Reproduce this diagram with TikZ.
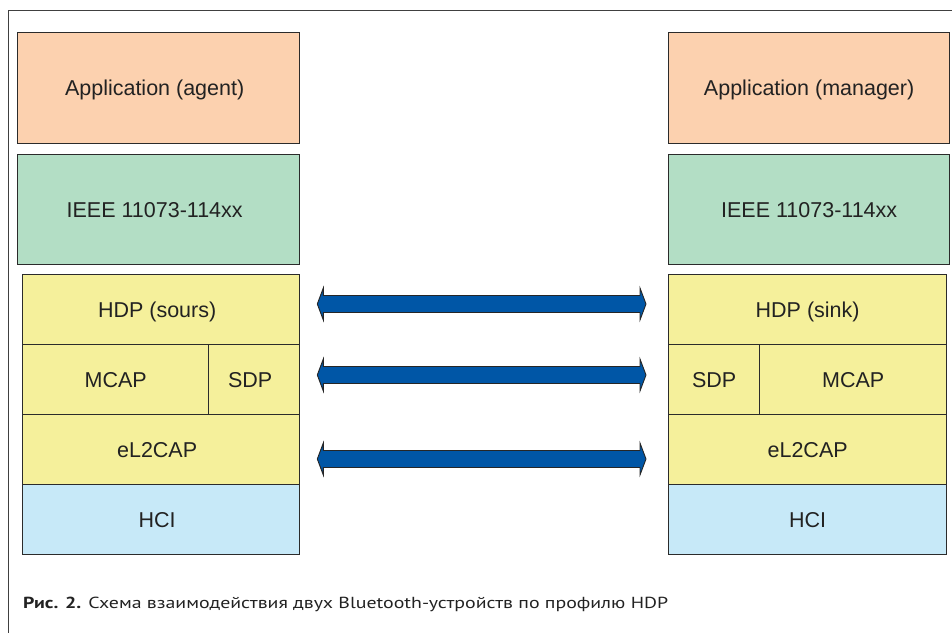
\documentclass[tikz,border=0pt]{standalone}
\usepackage{fontspec}
\setmainfont{Liberation Sans}
\newfontfamily\capfont{PT Sans}
\usetikzlibrary{calc}
\definecolor{appc}{HTML}{FCD1AF}
\definecolor{ieeec}{HTML}{B3DEC5}
\definecolor{stackc}{HTML}{F5F09B}
\definecolor{hcic}{HTML}{C7E9F8}
\definecolor{arrc}{HTML}{0056A6}
\definecolor{boxline}{HTML}{2B2B2B}
\definecolor{txt}{HTML}{222222}
\begin{document}
\begin{tikzpicture}[x=1pt,y=-1pt,
  box/.style={draw=boxline, line width=1.3pt, anchor=north west, inner sep=0pt,
    text height=17pt, text depth=1.6pt,
    font=\fontsize{21.5}{24}\selectfont, text=txt},
  lsh/.style={execute at begin node=\hspace*{-8pt}},
  fat/.style={fill=arrc, draw=black!85, line width=0.9pt, line join=miter},
  frame/.style={draw=black!75, line width=1pt}]
\useasboundingbox (0,0) rectangle (952,632);
\draw[frame] (8,645) -- (8,10) -- (965,10);
% left column
\node[box, lsh, fill=appc, minimum width=282, minimum height=111] (appL) at (17,32) {Application (agent)};
\node[box, lsh, fill=ieeec, minimum width=282, minimum height=110] (ieeeL) at (17,154) {IEEE 11073-114xx};
\node[box, lsh, fill=stackc, minimum width=277, minimum height=70] (hdpL) at (22,274) {HDP (sours)};
\node[box, fill=stackc, minimum width=186, minimum height=70] (mcapL) at (22,344) {MCAP};
\node[box, lsh, fill=stackc, minimum width=91, minimum height=70] (sdpL) at (208,344) {SDP};
\node[box, lsh, fill=stackc, minimum width=277, minimum height=70] (l2L) at (22,414) {eL2CAP};
\node[box, lsh, fill=hcic, minimum width=277, minimum height=70] (hciL) at (22,484) {HCI};
% right column
\node[box, fill=appc, minimum width=281, minimum height=111] (appR) at (668,32) {Application (manager)};
\node[box, fill=ieeec, minimum width=281, minimum height=110] (ieeeR) at (668,154) {IEEE 11073-114xx};
\node[box, fill=stackc, minimum width=278, minimum height=70] (hdpR) at (668,274) {HDP (sink)};
\node[box, fill=stackc, minimum width=91, minimum height=70] (sdpR) at (668,344) {SDP};
\node[box, fill=stackc, minimum width=187, minimum height=70] (mcapR) at (759,344) {MCAP};
\node[box, fill=stackc, minimum width=278, minimum height=70] (l2R) at (668,414) {eL2CAP};
\node[box, fill=hcic, minimum width=278, minimum height=70] (hciR) at (668,484) {HCI};
% arrows
\coordinate (y1) at (0,304);
\coordinate (y2) at (0,375);
\coordinate (y3) at (0,459);
\foreach \k/\a/\b in {1/hdpL/hdpR, 2/sdpL/sdpR, 3/l2L/l2R}{
  \coordinate (aL\k) at ($(\a.east |- y\k)+(17,0)$);
  \coordinate (aR\k) at ($(\b.west |- y\k)+(-22,0)$);
  \draw[fat] let \p1=(aL\k), \p2=(aR\k) in
    (\p1) -- (\x1+6pt,\y1+16pt) -- (\x1+6pt,\y1+8.5pt) -- (\x2-6pt,\y1+8.5pt)
    -- (\x2-6pt,\y1+16pt) -- (\p2) -- (\x2-6pt,\y1-16pt) -- (\x2-6pt,\y1-8.5pt)
    -- (\x1+6pt,\y1-8.5pt) -- (\x1+6pt,\y1-16pt) -- cycle;
}
% caption
\node[anchor=base west, inner sep=0pt, font=\capfont\fontsize{16}{18}\selectfont, text=txt] (cap) at (23,608)
  {\scalebox{1.24}[1]{\textbf{Рис. 2.} Схема взаимодействия двух Bluetooth-устройств по профилю HDP}};
\end{tikzpicture}
\end{document}
